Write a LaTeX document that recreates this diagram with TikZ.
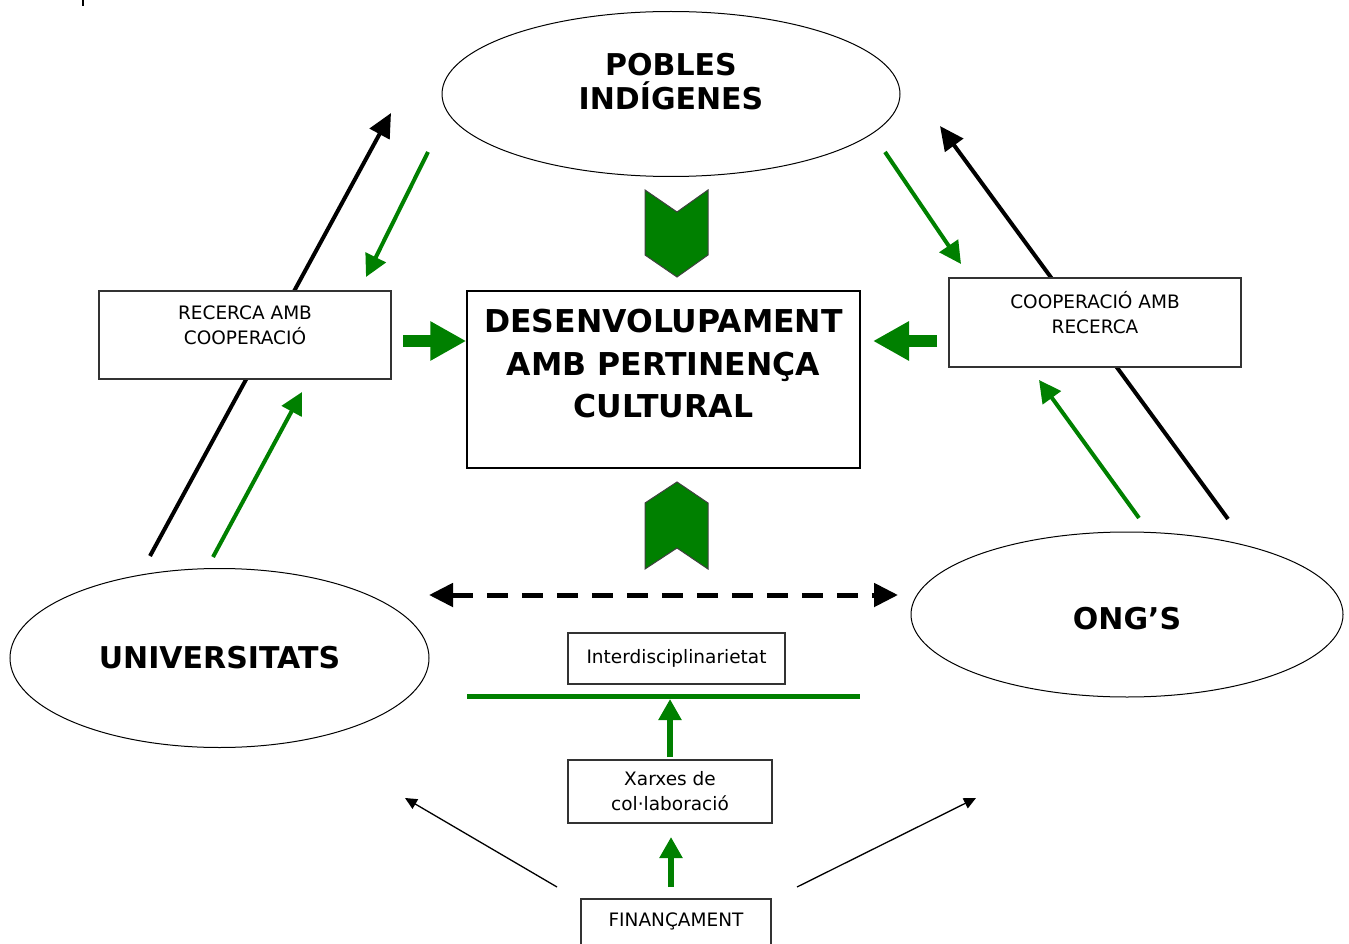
\documentclass[tikz,border=0pt]{standalone}
\usepackage{fontspec}
\setmainfont{DejaVu Sans}
\usetikzlibrary{arrows.meta,shapes.geometric}
\definecolor{VERD}{HTML}{008000}

\begin{document}
\begin{tikzpicture}[x=1pt, y=-1pt,
		every node/.style={black, text=black, align=center, inner sep=0pt},
		grup/.style={draw, ellipse, line width=1pt, fill=white, font=\bfseries\fontsize{30}{34}\selectfont},
		caixa/.style={draw=black!80, fill=white, line width=1.5pt, font=\fontsize{18.5}{25}\selectfont},
		fletxanegra/.style={black, line width=4pt, -{Triangle[length=24pt,width=22pt]}},
		fletxaverda/.style={VERD, line width=4pt, -{Triangle[length=22pt,width=22pt]}},
		fletxagrossa/.style={VERD, line width=12pt, -{Triangle[length=36pt,width=37pt]}},
		fletxapujar/.style={VERD, line width=6pt, -{Triangle[length=21pt,width=22pt]}},
		fletxafina/.style={black, line width=1.3pt, -{Triangle[length=12pt,width=11pt]}},
		galo/.style={fill=VERD, draw=black!75, line width=1pt}]
	\useasboundingbox (0,0) rectangle (1349,944);
	\draw[line width=1.5pt] (83,0) -- (83,6);

	% punts lliures
	\coordinate (uA) at (150,556);
	\coordinate (pA) at (391,113);
	\coordinate (oA) at (1228,519);
	\coordinate (pB) at (940,126);
	\coordinate (g1s) at (428,152);
	\coordinate (g1e) at (366,277);
	\coordinate (g2s) at (213,557);
	\coordinate (g2e) at (302,392);
	\coordinate (g3s) at (885,152);
	\coordinate (g3e) at (961,264);
	\coordinate (g4s) at (1139,518);
	\coordinate (g4e) at (1039,380);
	\coordinate (hL) at (403,341);
	\coordinate (hR) at (937,341);
	\coordinate (hRe) at (873,341);
	\coordinate (dL) at (429,595);
	\coordinate (dR) at (898,595);
	\coordinate (barraE) at (467,696);
	\coordinate (barraD) at (860,696);
	\coordinate (v1s) at (670,757);
	\coordinate (v1e) at (670,699);
	\coordinate (v2s) at (671,887);
	\coordinate (v2e) at (671,837);
	\coordinate (fL) at (557,887);
	\coordinate (uB) at (405,798);
	\coordinate (fR) at (797,887);
	\coordinate (oB) at (976,798);

	\draw[fletxanegra] (uA) -- (pA);
	\draw[fletxanegra] (oA) -- (pB);

	\node[grup, minimum width=458, minimum height=165, text depth=25] (pobles) at (671,94) {POBLES\\INDÍGENES};
	\node[grup, minimum width=419, minimum height=179] (univ) at (219.5,658) {UNIVERSITATS};
	\node[grup, minimum width=432, minimum height=165, text height=30] (ong) at (1127,614.5) {ONG’S};

	\node[caixa, draw=black, font=\bfseries\fontsize{31.5}{42.5}\selectfont, minimum width=393, minimum height=177, text depth=32] (dev) at (663.5,379.5) {DESENVOLUPAMENT\\AMB PERTINENÇA\\CULTURAL};
	\node[caixa, minimum width=292, minimum height=88, text depth=20] (rec) at (245,335) {RECERCA AMB\\COOPERACIÓ};
	\node[caixa, minimum width=292, minimum height=89, text depth=20] (coop) at (1095,322.5) {COOPERACIÓ AMB\\RECERCA};
	\node[caixa, minimum width=217, minimum height=51] (inter) at (676.5,658.5) {Interdisciplinarietat};
	\node[caixa, minimum width=204, minimum height=63] (xar) at (670,791.5) {Xarxes de\\col·laboració};
	\node[caixa, minimum width=190, minimum height=61, text depth=19] (fin) at (676,929.5) {FINANÇAMENT};

	\draw[galo] (645,190) -- (677,212) -- (708,190) -- (708,255) -- (677,277) -- (645,255) -- cycle;
	\draw[galo] (645,569) -- (677,548) -- (708,569) -- (708,503) -- (677,482) -- (645,503) -- cycle;

	\draw[fletxaverda] (g1s) -- (g1e);
	\draw[fletxaverda] (g2s) -- (g2e);
	\draw[fletxaverda] (g3s) -- (g3e);
	\draw[fletxaverda] (g4s) -- (g4e);

	\draw[fletxagrossa] (hL) -- (hL -| dev.west);
	\draw[fletxagrossa] (hR) -- (hRe);

	\draw[black, line width=5pt, dash pattern=on 21pt off 14pt, {Triangle[length=24pt,width=23pt]}-{Triangle[length=24pt,width=23pt]}] (dL) -- (dR);

	\draw[VERD, line width=5pt] (barraE) -- (barraD);
	\draw[fletxapujar] (v1s) -- (v1e);
	\draw[fletxapujar] (v2s) -- (v2e);

	\draw[fletxafina] (fL) -- (uB);
	\draw[fletxafina] (fR) -- (oB);
\end{tikzpicture}
\end{document}
